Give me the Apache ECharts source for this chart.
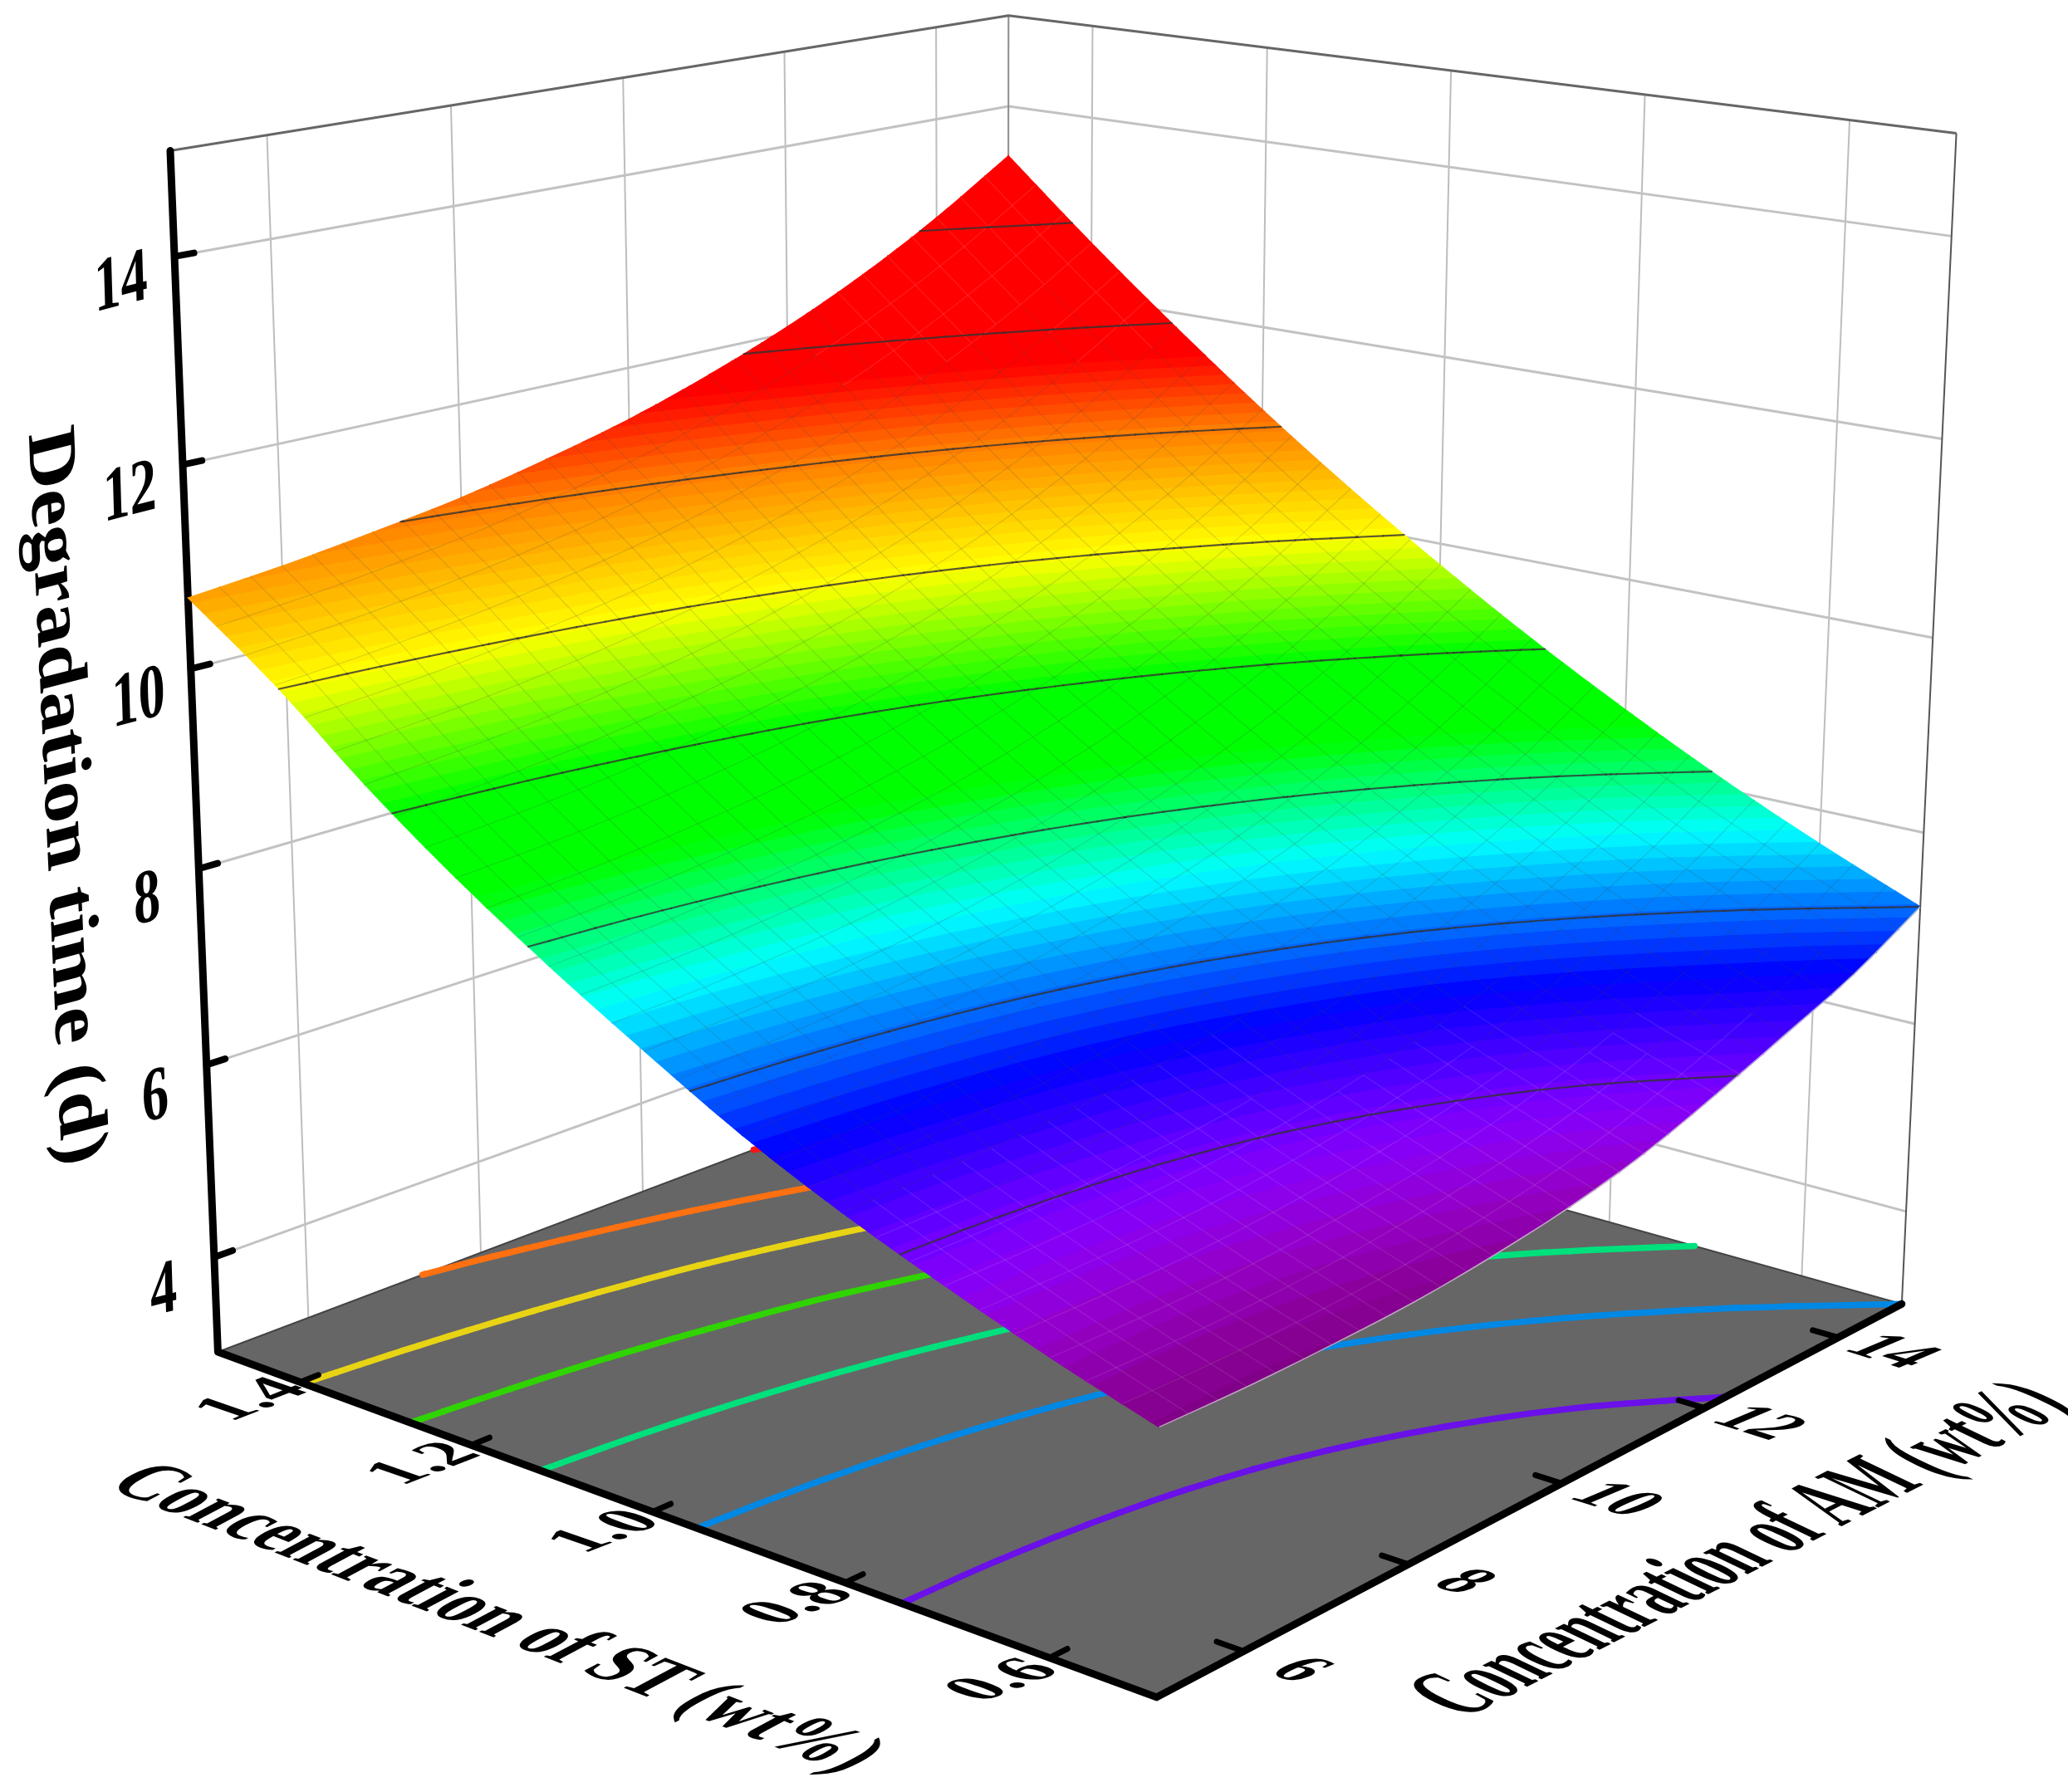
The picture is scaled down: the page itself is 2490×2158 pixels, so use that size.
<!DOCTYPE html>
<html><head><meta charset="utf-8">
<style>html,body{margin:0;padding:0;background:#fff}#c{width:2490px;height:2158px}</style>
<script src="https://cdn.jsdelivr.net/npm/echarts@6/dist/echarts.min.js"></script>
</head><body><div id="c"></div>
<script>
// ---------- values ----------
const amTicks = [6, 8, 10, 12, 14];
const stTicks = [0.6, 0.8, 1.0, 1.2, 1.4];
const zTicks = [4, 6, 8, 10, 12, 14];
const contourLevels = [6.3, 7.23, 8.16, 9.09, 10.02, 10.95, 11.88, 12.81];
const amGrid = [5, 6, 7, 8, 9, 10, 11, 12, 13, 14, 15];
const stGrid = [0.5, 0.6, 0.7, 0.8, 0.9, 1.0, 1.1, 1.2, 1.3, 1.4, 1.5];
const timeSt050 = [5.48, 5.47, 5.49, 5.53, 5.62, 5.75, 5.94, 6.21, 6.51, 6.82, 7.23];
const timeSt060 = [5.79, 5.79, 5.81, 5.87, 5.97, 6.11, 6.30, 6.56, 6.87, 7.22, 7.65];
const timeSt070 = [6.14, 6.15, 6.18, 6.24, 6.34, 6.49, 6.69, 6.96, 7.28, 7.65, 8.11];
const timeSt080 = [6.52, 6.54, 6.59, 6.66, 6.78, 6.95, 7.16, 7.43, 7.76, 8.15, 8.62];
const timeSt090 = [6.96, 7.00, 7.06, 7.15, 7.28, 7.45, 7.67, 7.95, 8.29, 8.69, 9.17];
const timeSt100 = [7.48, 7.52, 7.59, 7.69, 7.83, 8.01, 8.24, 8.53, 8.87, 9.29, 9.77];
const timeSt110 = [8.03, 8.08, 8.16, 8.27, 8.42, 8.61, 8.85, 9.14, 9.50, 9.92, 10.41];
const timeSt120 = [8.63, 8.69, 8.78, 8.90, 9.05, 9.25, 9.50, 9.80, 10.17, 10.60, 11.10];
const timeSt130 = [9.30, 9.37, 9.46, 9.59, 9.75, 9.96, 10.21, 10.52, 10.89, 11.33, 11.84];
const timeSt140 = [10.05, 10.12, 10.22, 10.35, 10.51, 10.72, 10.98, 11.29, 11.67, 12.11, 12.62];
const timeSt150 = [10.70, 10.79, 10.91, 11.05, 11.24, 11.46, 11.74, 12.07, 12.46, 12.92, 13.45];
const titleAM = 'Concentration of AM (wt%)';
const titleST = 'Concentration of ST (wt%)';
const titleZ = 'Degradation time (d)';

const timeRows = [timeSt050, timeSt060, timeSt070, timeSt080, timeSt090, timeSt100, timeSt110, timeSt120, timeSt130, timeSt140, timeSt150];
const AM_RANGE = [5, 15], ST_RANGE = [0.5, 1.5], Z_RANGE = [3, 15];
const nodes = [];
timeRows.forEach((row, j) => row.forEach((z, i) => nodes.push([amGrid[i], stGrid[j], z, i, j])));

// ---------- camera: projective map fitted to the box of the chart ----------
const anchors = [
  [0, 0, 0, 1393, 2047], [0, 1, 0, 262, 1629], [1, 0, 0, 2293, 1566], [1, 1, 0, 1213, 1272],
  [0, 1, 1, 205, 181], [1, 0, 1, 2356, 161], [1, 1, 1, 1214, 19],
  [0, 1, 11 / 12, 210, 309], [0, 1, 1 / 12, 257, 1509], [0, 0.5, 0, 790, 1822], [0.5, 0, 0, 1874, 1787]
];
function fitCamera(pts) {
  const n = 11, A = Array.from({ length: n }, () => new Array(n + 1).fill(0));
  const add = (r, b) => { for (let p = 0; p < n; p++) { for (let q = 0; q < n; q++) A[p][q] += r[p] * r[q]; A[p][n] += r[p] * b; } };
  pts.forEach(([a, s, h, x, y]) => {
    add([a, s, h, 1, 0, 0, 0, 0, -x * a, -x * s, -x * h], x);
    add([0, 0, 0, 0, a, s, h, 1, -y * a, -y * s, -y * h], y);
  });
  for (let c = 0; c < n; c++) {
    let m = c; for (let r = c + 1; r < n; r++) if (Math.abs(A[r][c]) > Math.abs(A[m][c])) m = r;
    [A[c], A[m]] = [A[m], A[c]];
    for (let r = 0; r < n; r++) if (r !== c) { const f = A[r][c] / A[c][c]; for (let q = c; q <= n; q++) A[r][q] -= f * A[c][q]; }
  }
  return A.map((r, i) => r[n] / r[i]);
}
const P = fitCamera(anchors);
const lm = echarts.number.linearMap;
function cam(am, st, z) {
  const a = lm(am, AM_RANGE, [0, 1]), s = lm(st, ST_RANGE, [0, 1]), h = lm(z, Z_RANGE, [0, 1]);
  const w = P[8] * a + P[9] * s + P[10] * h + 1;
  return [(P[0] * a + P[1] * s + P[2] * h + P[3]) / w, (P[4] * a + P[5] * s + P[6] * h + P[7]) / w];
}
const S = (api, am, st, z) => api.coord(cam(am, st, z));

// ---------- colour map ----------
const colorStops = [[5.4, '#7c0080'], [5.6, '#8a0098'], [5.85, '#9400c8'], [6.1, '#8a00f5'], [6.3, '#7000ff'], [6.85, '#0000ff'], [7.75, '#00ffff'],
  [8.5, '#00ff00'], [9.1, '#00ff00'], [10.02, '#ffff00'], [10.95, '#ff8000'], [11.6, '#ff0000'], [16, '#ff0000']];
const hex = h => [1, 3, 5].map(k => parseInt(h.substr(k, 2), 16));
function colorAt(z) {
  for (let k = 1; k < colorStops.length; k++) if (z <= colorStops[k][0]) {
    const [z0, c0] = colorStops[k - 1], [z1, c1] = colorStops[k];
    const t = Math.max(0, (z - z0) / (z1 - z0)), a = hex(c0), b = hex(c1);
    return 'rgb(' + a.map((v, n) => Math.round(v + (b[n] - v) * t)).join(',') + ')';
  }
  return '#ff0000';
}
const floorContourColors = ['#6a10e8', '#0088e4', '#00e07c', '#30d400', '#e8d414', '#ff7010', '#ff1414', '#ff1414'];

// ---------- drawing the smooth sheet through the grid of values ----------
const cr = (p0, p1, p2, p3, t) => 0.5 * (2 * p1 + (p2 - p0) * t + (2 * p0 - 5 * p1 + 4 * p2 - p3) * t * t + (3 * p1 - p0 - 3 * p2 + p3) * t * t * t);
function rowAt(row, x, i) {
  const n = row.length, g = k => k < 0 ? 2 * row[0] - row[1] : k >= n ? 2 * row[n - 1] - row[n - 2] : row[k];
  return cr(g(i - 1), g(i), g(i + 1), g(i + 2), x);
}
function surf(am, st) {
  const fi = am - 5, fj = (st - 0.5) * 10, nA = amGrid.length, nS = stGrid.length;
  const i = Math.min(nA - 2, Math.floor(fi + 1e-9)), j = Math.min(nS - 2, Math.floor(fj + 1e-9));
  const x = fi - i, y = fj - j;
  const v = k => k < 0 ? 2 * v(0) - v(1) : k >= nS ? 2 * v(nS - 1) - v(nS - 2) : rowAt(timeRows[k], x, i);
  return cr(v(j - 1), v(j), v(j + 1), v(j + 2), y);
}
const SUB = 3;
function trianglesOfCell(i, j) {
  const out = [], n = (ii, jj) => {
    const am = amGrid[i] + ii / SUB, st = stGrid[j] + 0.1 * jj / SUB;
    return [am, st, surf(am, st)];
  };
  for (let a = 0; a < SUB; a++) for (let b = 0; b < SUB; b++) {
    const p = n(a, b), q = n(a + 1, b), r = n(a + 1, b + 1), s = n(a, b + 1);
    out.push([p, q, r], [p, r, s]);
  }
  return out;
}
function clipBand(poly, v, keepAbove) {
  const out = [];
  for (let k = 0; k < poly.length; k++) {
    const p = poly[k], q = poly[(k + 1) % poly.length];
    const pin = keepAbove ? p[2] >= v : p[2] <= v, qin = keepAbove ? q[2] >= v : q[2] <= v;
    if (pin) out.push(p);
    if (pin !== qin) { const t = (v - p[2]) / (q[2] - p[2]); out.push([p[0] + (q[0] - p[0]) * t, p[1] + (q[1] - p[1]) * t, v]); }
  }
  return out;
}
function crossing(tri, L) {
  const pts = [];
  for (let k = 0; k < 3; k++) {
    const p = tri[k], q = tri[(k + 1) % 3];
    if ((p[2] < L) !== (q[2] < L)) { const t = (L - p[2]) / (q[2] - p[2]); pts.push([p[0] + (q[0] - p[0]) * t, p[1] + (q[1] - p[1]) * t]); }
  }
  return pts.length === 2 ? pts : null;
}
function line(points, stroke, lineWidth, cap) {
  return { type: 'polyline', silent: true, shape: { points }, style: { stroke, lineWidth, fill: null, lineCap: cap || 'butt', lineJoin: 'round' } };
}
// text through an arbitrary affine frame: u = baseline vector, v = glyph-up vector
function frameText(text, x, y, u, v) {
  const a = u[0], b = -v[0], c = u[1], d = -v[1];
  const E = (a + d) / 2, F = (a - d) / 2, G = (c + b) / 2, H = (c - b) / 2;
  const Q = Math.hypot(E, H), R = Math.hypot(F, G);
  const a1 = Math.atan2(G, F), a2 = Math.atan2(H, E);
  const theta = (a2 - a1) / 2, phi = (a2 + a1) / 2;
  return {
    type: 'group', x, y, rotation: -phi, silent: true,
    children: [{ type: 'group', scaleX: Q + R, scaleY: Q - R, children: [{
      type: 'text', rotation: -theta, silent: true,
      style: { text, fontFamily: 'Liberation Serif', fontWeight: 'bold', fontSize: 100, fill: '#000',
        align: 'center', verticalAlign: 'middle', textAlign: 'center', textVerticalAlign: 'middle' }
    }] }]
  };
}
const scaled = (k, d) => [k * d[0], k * d[1]];

// ---------- layers ----------
function renderWalls(params, api) {
  const ch = [], G = '#c2c2c2', V = '#bdbdbd';
  amTicks.forEach(am => ch.push(line([S(api, am, 1.5, 3), S(api, am, 1.5, 15)], V, 2)));
  stTicks.forEach(st => ch.push(line([S(api, 15, st, 3), S(api, 15, st, 15)], V, 2)));
  zTicks.forEach(z => {
    ch.push(line([S(api, 5, 1.5, z), S(api, 15, 1.5, z)], G, 3));
    ch.push(line([S(api, 15, 1.5, z), S(api, 15, 0.5, z)], G, 3));
  });
  ch.push(line([S(api, 15, 1.5, 3), S(api, 15, 1.5, 15)], '#8c8c8c', 2));
  ch.push(line([S(api, 15, 0.5, 3), S(api, 15, 0.5, 15)], '#555', 2));
  ch.push(line([S(api, 5, 1.5, 15), S(api, 15, 1.5, 15), S(api, 15, 0.5, 15)], '#666', 3));
  return { type: 'group', children: ch };
}
function renderFloor(params, api) {
  return { type: 'polygon', silent: true, shape: { points: [S(api, 5, 0.5, 3), S(api, 15, 0.5, 3), S(api, 15, 1.5, 3), S(api, 5, 1.5, 3)] }, style: { fill: '#666666', stroke: '#444', lineWidth: 2 } };
}
function renderFloorContours(params, api) {
  const i = api.value(3), j = api.value(4);
  if (i >= amGrid.length - 1 || j >= stGrid.length - 1) return null;
  const ch = [];
  trianglesOfCell(i, j).forEach(tri => contourLevels.forEach((L, n) => {
    const seg = crossing(tri, L);
    if (seg) ch.push(line(seg.map(p => S(api, p[0], p[1], 3)), floorContourColors[n], 7.5, 'round'));
  }));
  return { type: 'group', children: ch };
}
const BAND = 1 / 12;
function renderSurface(params, api) {
  const i = api.value(3), j = api.value(4);
  if (i >= amGrid.length - 1 || j >= stGrid.length - 1) return null;
  const ch = [];
  trianglesOfCell(i, j).forEach(tri => {
    const zs = tri.map(p => p[2]), lo = Math.min(...zs), hi = Math.max(...zs);
    for (let b = Math.floor(lo / BAND); b * BAND < hi; b++) {
      let poly = clipBand(tri, b * BAND, true);
      if (poly.length >= 3) poly = clipBand(poly, (b + 1) * BAND, false);
      if (poly.length < 3) continue;
      const col = colorAt((b + 0.5) * BAND);
      ch.push({ type: 'polygon', silent: true, shape: { points: poly.map(p => S(api, p[0], p[1], p[2])) }, style: { fill: col, stroke: col, lineWidth: 1.2 } });
    }
  });
  return { type: 'group', children: ch };
}
function meshColor(z) { return (z > 11.5 || z < 6.4) ? 'rgba(255,255,255,0.10)' : 'rgba(70,70,70,0.17)'; }
function renderMesh(params, api) {
  const i = api.value(3), j = api.value(4), ch = [], am0 = amGrid[i], st0 = stGrid[j];
  const doAm = i < amGrid.length - 1, doSt = j < stGrid.length - 1;
  for (let k = 0; k < SUB; k++) {
    if (doSt && doAm && (k > 0 || i > 0)) {
      const am = am0 + k / SUB, pts = [];
      for (let m = 0; m <= SUB; m++) { const st = st0 + 0.1 * m / SUB; pts.push(S(api, am, st, surf(am, st))); }
      ch.push(line(pts, meshColor(surf(am, st0)), 1.3));
    }
    if (doAm && doSt && (k > 0 || j > 0)) {
      const st = st0 + 0.1 * k / SUB, pts = [];
      for (let m = 0; m <= SUB; m++) { const am = am0 + m / SUB; pts.push(S(api, am, st, surf(am, st))); }
      ch.push(line(pts, meshColor(surf(am0, st)), 1.3));
    }
  }
  return { type: 'group', children: ch };
}
function renderSurfaceContours(params, api) {
  const i = api.value(3), j = api.value(4);
  if (i >= amGrid.length - 1 || j >= stGrid.length - 1) return null;
  const ch = [];
  trianglesOfCell(i, j).forEach(tri => contourLevels.forEach(L => {
    const seg = crossing(tri, L);
    if (seg) ch.push(line(seg.map(p => S(api, p[0], p[1], L)), 'rgba(50,50,50,0.8)', 2.2, 'round'));
  }));
  return { type: 'group', children: ch };
}
function renderEdge(params, api) {
  const pts = [];
  for (let am = 5; am <= 15.001; am += 1 / SUB) pts.push(S(api, Math.min(am, 15), 0.5, surf(Math.min(am, 15), 0.5)));
  return line(pts, 'rgba(205,205,205,0.8)', 1.6);
}
function renderAxes(params, api) {
  const ch = [];
  ch.push(line([S(api, 5, 1.5, 15), S(api, 5, 1.5, 3), S(api, 5, 0.5, 3), S(api, 15, 0.5, 3)], '#000', 9, 'round'));
  zTicks.forEach(z => {
    ch.push(line([S(api, 5, 1.5, z), S(api, 5.2, 1.5, z)], '#000', 8, 'round'));
    const p = S(api, 4.45, 1.5, z - 0.18);
    ch.push(frameText(String(z), p[0], p[1], scaled(0.66, [0.97, -0.25]), scaled(0.92, [-0.03, -1])));
  });
  stTicks.forEach(st => {
    ch.push(line([S(api, 5, st, 3), S(api, 5.2, st, 3)], '#000', 7, 'round'));
    const p = S(api, 4.5, st, 3);
    ch.push(frameText(st.toFixed(1), p[0], p[1], scaled(0.85, [0.93, -0.36]), scaled(0.85, [-0.95, -0.33])));
  });
  amTicks.forEach(am => {
    ch.push(line([S(api, am, 0.5, 3), S(api, am, 0.525, 3)], '#000', 7, 'round'));
    const p = S(api, am, 0.45, 3);
    ch.push(frameText(String(am), p[0], p[1], scaled(0.8, [0.95, 0.3]), scaled(0.85, [0.92, -0.39])));
  });
  const a = api.coord([76, 960]), b = api.coord([595, 1950]), c = api.coord([2100, 1868]);
  ch.push(frameText(titleZ, a[0], a[1], scaled(0.99, [0.045, 0.999]), scaled(0.85, [0.97, -0.25])));
  ch.push(frameText(titleST, b[0], b[1], scaled(0.82, [0.93, 0.36]), scaled(1.05, [0.88, -0.47])));
  ch.push(frameText(titleAM, c[0], c[1], scaled(0.68, [0.89, -0.454]), scaled(1.3, [-0.9, -0.43])));
  return { type: 'group', children: ch };
}
const layer = (renderItem, data) => ({ type: 'custom', coordinateSystem: 'cartesian2d', renderItem, data, silent: true, animation: false, clip: false, progressive: 0,
  encode: { x: 0, y: 1 } });
const one = [[0, 0]];

const chart = echarts.init(document.getElementById('c'), null, { renderer: 'canvas' });
chart.setOption({
  backgroundColor: '#ffffff',
  animation: false,
  grid: { left: 0, right: 0, top: 0, bottom: 0 },
  xAxis: { type: 'value', min: 0, max: 2490, show: false },
  yAxis: { type: 'value', min: 0, max: 2158, inverse: true, show: false },
  series: [
    layer(renderWalls, one), layer(renderFloor, one),
    layer(renderFloorContours, nodes),
    layer(renderAxes, one),
    layer(renderSurface, nodes), layer(renderMesh, nodes), layer(renderSurfaceContours, nodes), layer(renderEdge, one)
  ]
});
</script></body></html>
